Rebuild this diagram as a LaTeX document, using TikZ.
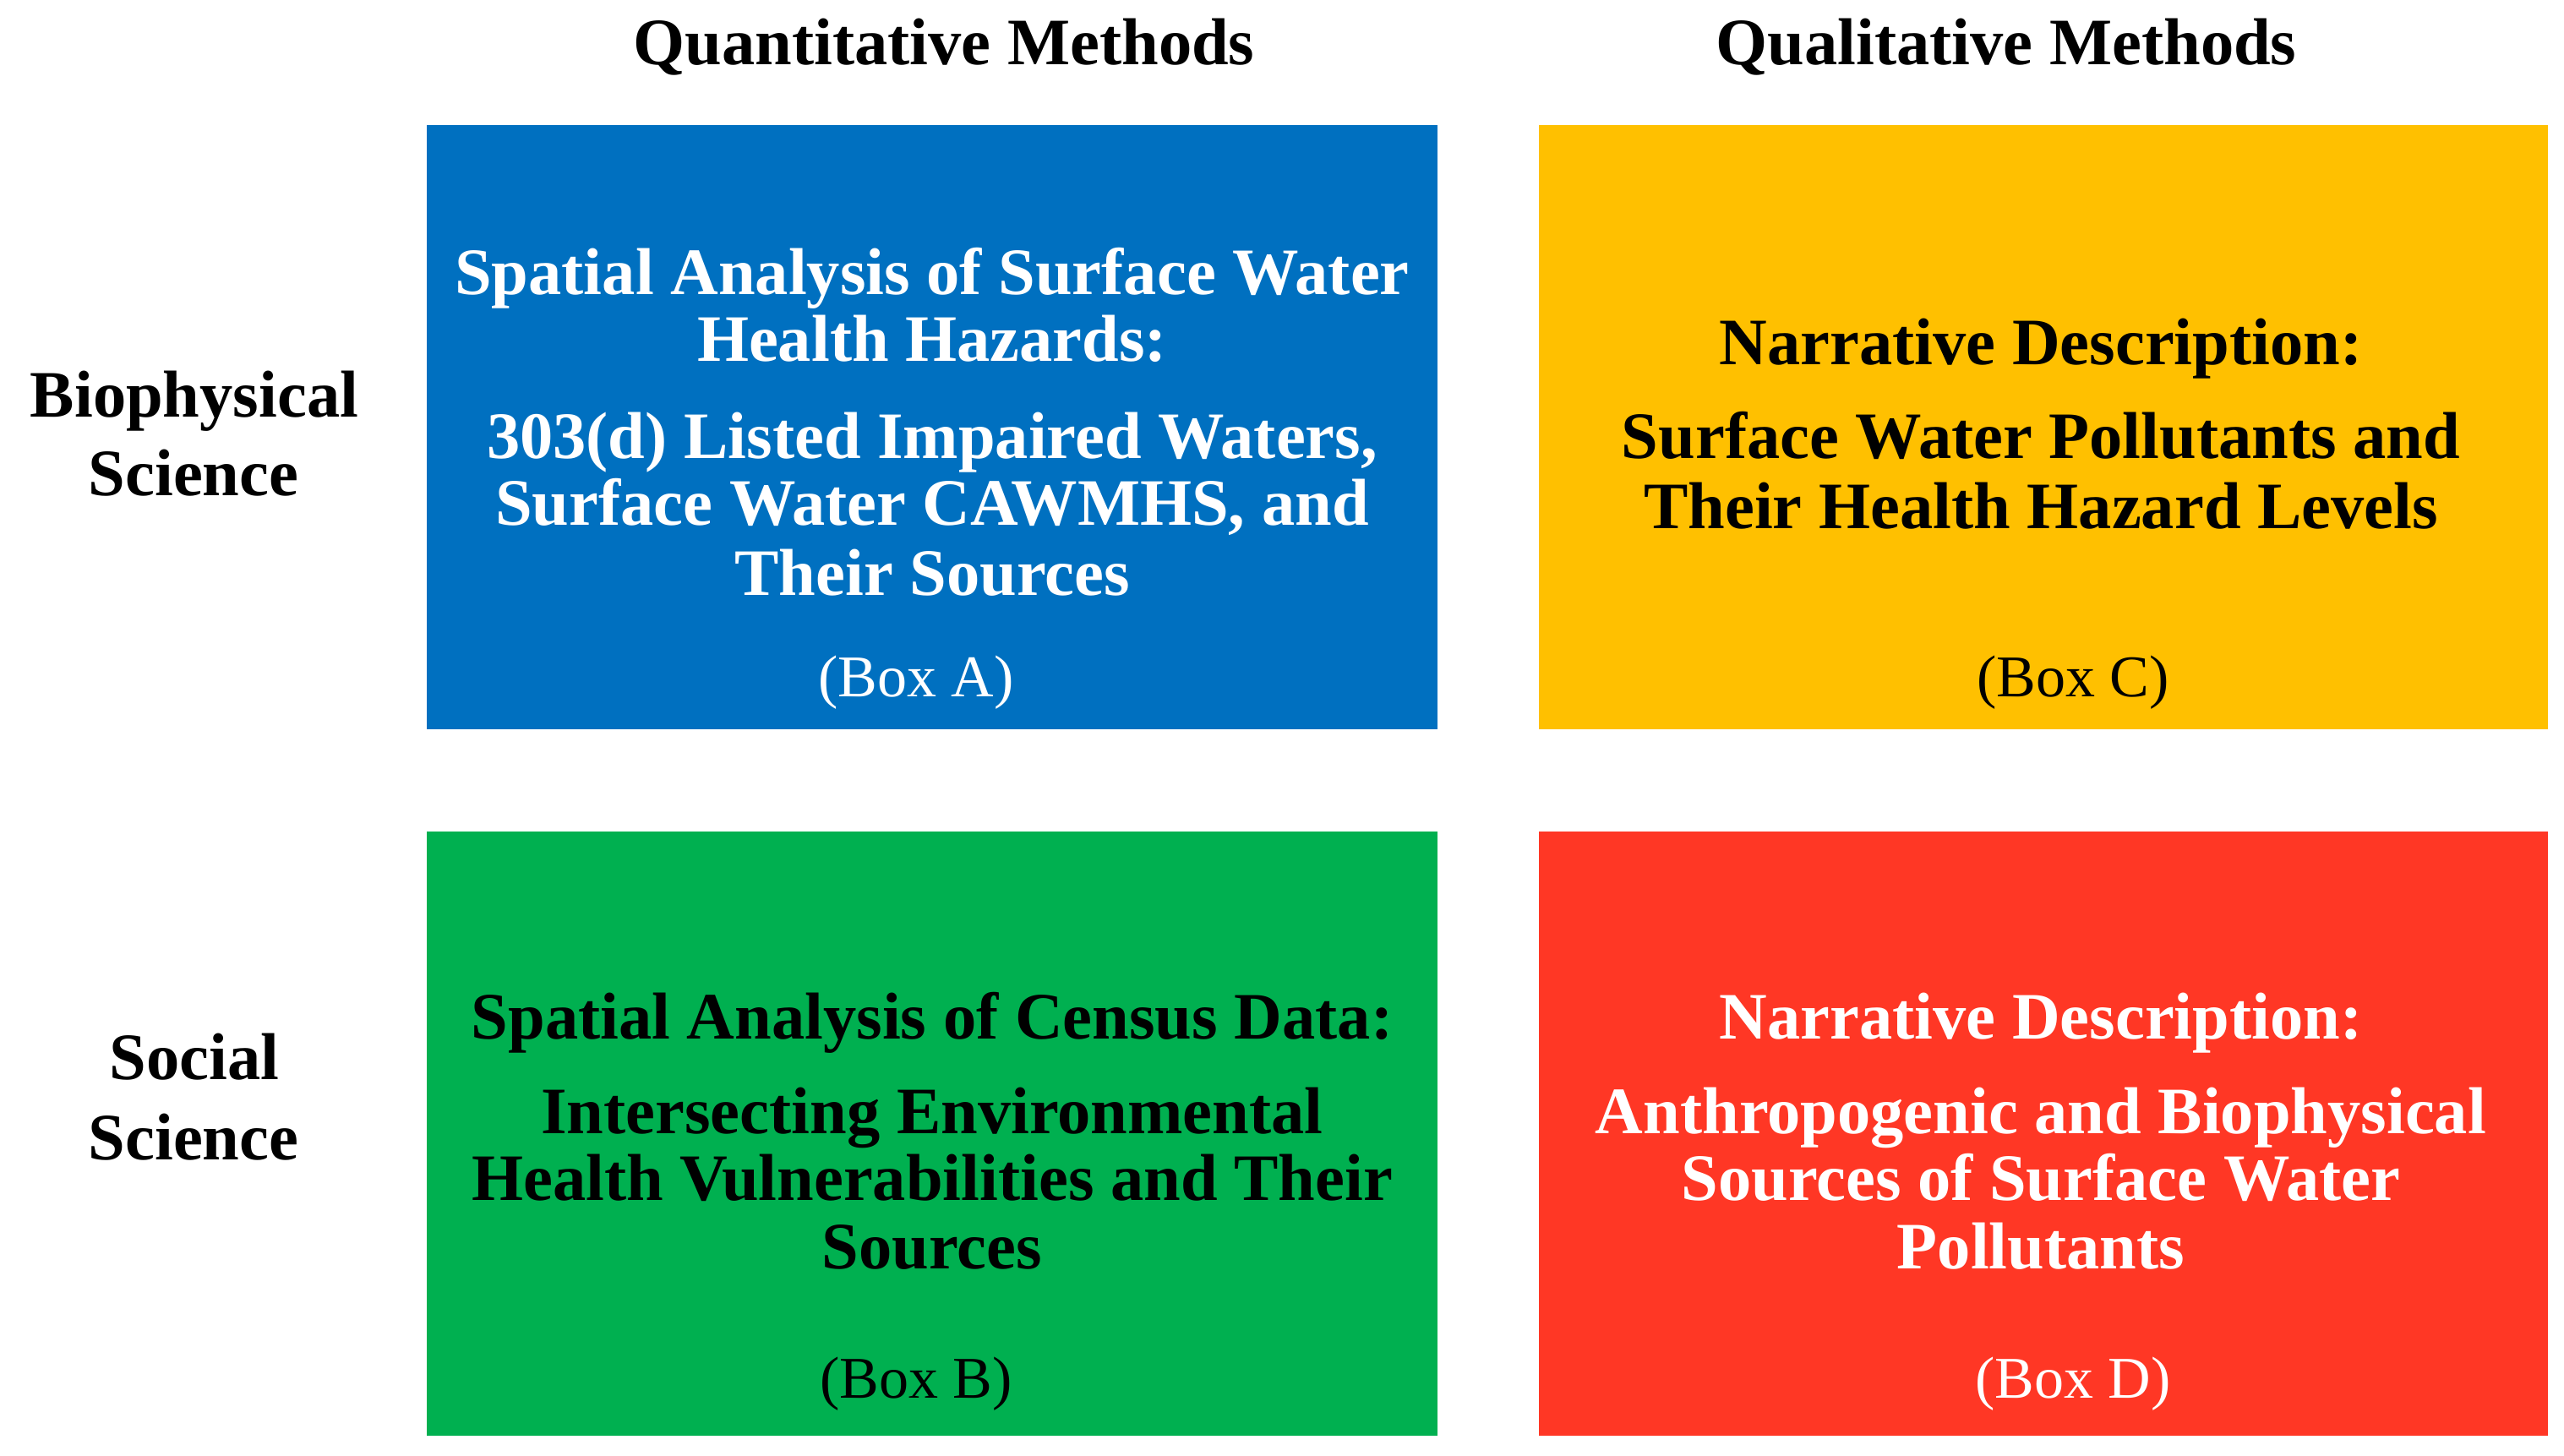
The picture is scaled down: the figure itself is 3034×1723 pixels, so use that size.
\documentclass[tikz,border=0pt]{standalone}
\usepackage{fontspec}
\setmainfont{Liberation Serif}
\definecolor{cblue}{HTML}{0070C0}
\definecolor{cyellow}{HTML}{FFC000}
\definecolor{cgreen}{HTML}{00B050}
\definecolor{cred}{HTML}{FF3725}
\begin{document}
\begin{tikzpicture}[x=1pt,y=-1pt,
  cell/.style={draw=none,inner sep=0pt,anchor=north west},
  bt/.style={font=\fontsize{78.5}{80}\selectfont\bfseries,anchor=base,inner sep=0pt},
  lbl/.style={font=\fontsize{70}{80}\selectfont,anchor=base,inner sep=0pt}]
\useasboundingbox (0,0) rectangle (3034,1723);
% boxes
\node[cell,fill=cblue,minimum width=1196pt,minimum height=715pt] (A) at (505,148) {};
\node[cell,fill=cyellow,minimum width=1194pt,minimum height=715pt] (C) at (1821,148) {};
\node[cell,fill=cgreen,minimum width=1196pt,minimum height=715pt] (B) at (505,984) {};
\node[cell,fill=cred,minimum width=1194pt,minimum height=715pt] (D) at (1821,984) {};
% headers
\node[bt] (hq) at (1117,77) {Quantitative Methods};
\node[bt] (hl) at (2374,77) {Qualitative Methods};
\node[bt] (r1a) at (230,493) {Biophysical};
\node[bt] (r1b) at (229,586) {Science};
\node[bt] (r2a) at (230,1277) {Social};
\node[bt] (r2b) at (229,1372) {Science};
% Box A
\begin{scope}[every node/.append style={text=white}]
\node[bt] (a1) at (1103,348) {Spatial Analysis of Surface Water};
\node[bt] (a2) at (1103,427) {Health Hazards:};
\node[bt] (a3) at (1103,542) {303(d) Listed Impaired Waters,};
\node[bt] (a4) at (1103,621) {Surface Water CAWMHS, and};
\node[bt] (a5) at (1103,704) {Their Sources};
\node[lbl] (a6) at (1084,824) {(Box A)};
\end{scope}
% Box C
\node[bt] (c1) at (2415,431) {Narrative Description:};
\node[bt] (c2) at (2415,542) {Surface Water Pollutants and};
\node[bt] (c3) at (2415,625) {Their Health Hazard Levels};
\node[lbl] (c4) at (2453,824) {(Box C)};
% Box B
\node[bt] (b1) at (1103,1229) {Spatial Analysis of Census Data:};
\node[bt] (b2) at (1103,1341) {Intersecting Environmental};
\node[bt] (b3) at (1103,1420) {Health Vulnerabilities and Their};
\node[bt] (b4) at (1103,1501) {Sources};
\node[lbl] (b5) at (1084,1654) {(Box B)};
% Box D
\begin{scope}[every node/.append style={text=white}]
\node[bt] (d1) at (2415,1229) {Narrative Description:};
\node[bt] (d2) at (2415,1341) {Anthropogenic and Biophysical};
\node[bt] (d3) at (2415,1420) {Sources of Surface Water};
\node[bt] (d4) at (2415,1501) {Pollutants};
\node[lbl] (d5) at (2453,1654) {(Box D)};
\end{scope}
\end{tikzpicture}
\end{document}
